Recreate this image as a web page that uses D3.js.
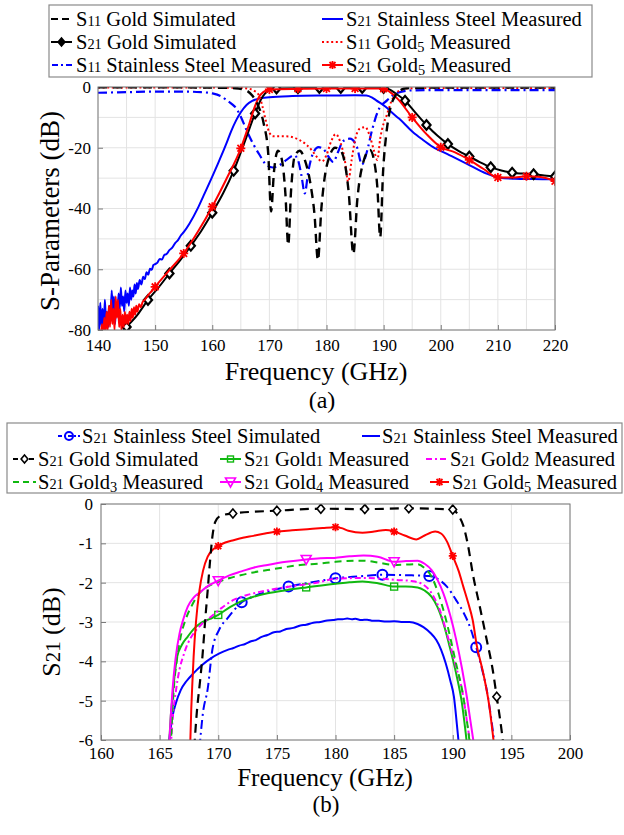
<!DOCTYPE html>
<html>
<head>
<meta charset="utf-8">
<script src="https://cdn.jsdelivr.net/npm/d3@7"></script>
<style>
  body { margin: 0; background: #fff; }
  svg { display: block; }
  text { font-family: Liberation Serif; fill: #000; }
</style>
</head>
<body>
<svg id="fig" width="624" height="835" font-family="Liberation Serif"></svg>
<script>
// ---------------- Panel (a): S-parameters, 140–220 GHz ----------------
const freqTicksA = [140, 150, 160, 170, 180, 190, 200, 210, 220];
const dbTicksA = [0, -20, -40, -60, -80];

// [frequency GHz, dB]
const s11GoldSimA = [
  [140,-0.1],[150,-0.1],[160,-0.2],[164,-0.4],[166,-1.2],[167,-2.8],[168,-6],[169,-12],
  [169.8,-22],[170.3,-41],[170.8,-28],[171.5,-21],[172.2,-24],[172.8,-35],[173.3,-52],
  [173.8,-34],[174.4,-23],[175.3,-21],[176.2,-24],[177.2,-32],[177.9,-42],[178.5,-57],
  [179.1,-40],[179.7,-29.5],[180.5,-23],[181.5,-20],[182.4,-20.7],[183.2,-25],[183.9,-35],
  [184.7,-55],[185.4,-37],[186.4,-25],[187.6,-20.7],[188.4,-25],[188.9,-33],[189.4,-49.5],
  [189.9,-28],[190.5,-15],[191.1,-7.6],[192,-3],[193,-1],[194,-0.4],[200,-0.2],[210,-0.2],[220,-0.2]
];
const s21GoldSimA = [
  [143.5,-82],[145,-79],[146.9,-75],[148.75,-70.1],[150.6,-66],[152.5,-61.4],[154.4,-57],
  [156.25,-52.3],[158.1,-47.3],[160,-41.4],[161.9,-35],[163.75,-27.6],[165.6,-18.5],
  [167.5,-8.7],[168.5,-4.2],[169.3,-2],[170.2,-0.9],[171.25,-0.5],[175,-0.4],[178.75,-0.3],
  [182.5,-0.3],[186.25,-0.3],[190,-0.3],[191,-0.8],[192,-2],[193.75,-4.5],[195.6,-8.5],
  [197.5,-12.5],[199.4,-16],[201.25,-18.8],[203.1,-21],[205,-22.9],[206.9,-24.8],
  [208.75,-26.4],[210.6,-27.5],[212.5,-28.2],[214.4,-28.5],[216.25,-28.7],[218.1,-29.1],[220,-29.5]
];
const s21GoldSimMarkA = [145,148.75,152.5,156.25,160,163.75,167.5,171.25,175,178.75,182.5,186.25,190,
  193.75,197.5,201.25,205,208.75,212.5,216.25,220];
const s11SteelMeasA = [
  [140,-1.9],[145,-1.7],[150,-1.5],[155,-1.5],[158,-1.7],[160,-2.1],[161.5,-3],[162.5,-4.3],
  [163.5,-5.7],[164.2,-7],[165,-9.8],[166,-14.2],[167.1,-18.5],[168.3,-22.4],[169.5,-25.7],
  [170.6,-26.5],[171.8,-25.7],[173,-24],[174.3,-22.5],[175,-24],[175.6,-29],[176.2,-35],
  [176.8,-28],[177.6,-22],[178.6,-19.8],[179.5,-20.5],[180.3,-22.8],[181.2,-24.7],[182,-21.5],
  [182.9,-17.8],[184.1,-17],[185.3,-19.6],[186.2,-25.5],[187,-21.8],[188,-14],[189,-8],
  [190.6,-4.4],[192,-2.3],[193,-1.6],[195.2,-1.1],[200,-1.0],[210,-1.0],[220,-1.0]
];
const s21SteelMeasA = [
  [140,-72],[140.2,-80],[140.4,-71],[140.6,-79],[140.8,-73],[141,-80],[141.2,-70],[141.4,-77],
  [141.6,-74],[141.8,-79],[142,-72],[142.2,-76],[142.4,-67],[142.6,-74],[142.8,-69],[143,-78],
  [143.2,-71],[143.4,-75],[143.6,-68],[143.8,-73],[144,-66],[144.2,-72],[144.4,-69],[144.6,-74],
  [144.8,-67],[145,-71],[145.2,-68],[145.4,-72],[145.6,-66],[145.8,-70],[146,-67],[146.2,-69],
  [146.4,-65],[146.6,-68],[146.8,-64.5],[147,-66.5],[147.3,-63.5],[147.6,-65],[147.9,-62.5],
  [148.2,-63.2],[148.5,-61],[148.8,-61.8],[149.1,-59.8],[149.4,-60.2],[149.7,-58.6],[150,-58.3],
  [150.4,-57.8],[150.8,-56.6],[151.2,-56.8],[151.6,-55.3],[152,-55.0],[152.5,-53.7],[153,-52.9],
  [153.5,-51.4],[154,-50.4],[154.5,-48.9],[155,-47.8],[156,-45],[157.5,-39.8],[158.5,-35.7],
  [160,-29.5],[161,-25.2],[162,-20.8],[162.5,-18.5],[163.3,-14.6],[164.2,-10.9],[165,-8.3],
  [166,-5.9],[167,-4.6],[168,-3.9],[170,-3.4],[174,-3.0],[180,-2.8],[185,-2.7],[187,-2.8],
  [188,-3.5],[188.7,-4.4],[190.4,-6.6],[191.5,-8.5],[192.7,-10.4],[195.1,-14.8],[196.8,-17.3],
  [198.6,-19.7],[201.5,-22.4],[204.5,-25.2],[208,-28.5],[210.3,-29.9],[213,-30.2],[216.1,-30.3],[220,-30.4]
];
const s11Gold5MeasA = [
  [140,-0.2],[150,-0.2],[160,-0.2],[165,-0.3],[166.5,-0.6],[167.3,-1.2],[167.9,-2],[168.3,-3.2],
  [168.8,-6.5],[169.3,-10.5],[169.8,-14],[170.6,-16.2],[172,-16.2],[173.5,-16.3],[175.3,-17.5],
  [176.5,-19],[177.5,-21],[178.3,-23],[179.2,-24.5],[180,-22.4],[180.8,-18],[181.6,-15.5],
  [182.4,-18],[183.2,-24],[183.8,-31.2],[184.4,-24],[185,-17.4],[185.9,-13.6],[186.8,-13.2],
  [187.6,-16.3],[188.4,-21.5],[188.9,-24],[189.4,-17],[190,-12],[190.5,-9.5],[191.3,-5],
  [192.1,-2.2],[193,-1],[194.4,-0.4],[200,-0.3],[210,-0.3],[220,-0.3]
];
const s21Gold5MeasA = [
  [140.4,-84],[140.7,-78],[140.9,-83],[141.1,-76],[141.3,-81],[141.5,-74],[141.7,-80],[141.9,-72],
  [142.1,-79],[142.3,-70],[142.5,-78],[142.7,-73],[142.9,-80],[143.1,-69],[143.3,-76],[143.5,-70],
  [143.7,-79],[143.9,-73],[144.1,-80],[144.3,-75],[144.5,-79],[144.7,-74],[144.9,-78],[145.1,-75],
  [145.3,-78],[145.5,-74],[145.7,-77],[145.9,-73],[146.1,-76],[146.3,-72.5],[146.5,-75],[146.7,-72],
  [146.9,-74],[147.2,-71.5],[147.5,-72.5],[147.8,-70.8],[148.2,-70],[148.6,-69],[149,-68],[149.5,-67],
  [150,-65.8],[152.5,-60.3],[155,-54.8],[157.5,-47.6],[160,-39.4],[162.5,-30.2],[165,-20.2],
  [166.5,-12],[167.5,-6.2],[168.2,-3.2],[169,-1.6],[170,-0.8],[175,-0.6],[180,-0.5],[185,-0.5],
  [189,-0.5],[190,-0.6],[191,-1.5],[192.5,-4],[195,-10],[197.5,-15.5],[200,-19.8],[202.5,-21.5],
  [205,-24],[207.5,-27],[210,-29.8],[212.5,-29.8],[215,-29.4],[217.5,-29.6],[220,-31]
];
const s21Gold5MarkA = [150,155,160,165,170,175,180,185,190,195,200,205,210,215,220];

// ---------------- Panel (b): S21 passband, 160–200 GHz ----------------
const freqTicksB = [160, 165, 170, 175, 180, 185, 190, 195, 200];
const dbTicksB = [0, -1, -2, -3, -4, -5, -6];

const s21SteelSimB = [
  [168.4,-6.2],[168.7,-5.3],[169.1,-4.7],[169.5,-3.7],[170.07,-3.2],[170.8,-2.9],[171.4,-2.68],
  [172,-2.5],[173,-2.35],[174.2,-2.23],[176,-2.1],[178.4,-1.97],[180,-1.89],[182,-1.84],[184,-1.8],
  [186,-1.81],[188,-1.83],[188.8,-1.92],[189.5,-2.1],[190.3,-2.45],[190.9,-2.75],[191.5,-3.15],
  [192,-3.64],[192.5,-4.2],[192.9,-4.73],[193.3,-5.5],[193.6,-6.2]
];
const s21SteelSimMarkB = [172,176,180,184,188,192];
const s21SteelMeasB = [
  [165.75,-6.2],[165.9,-5.8],[166.1,-5.4],[166.4,-5.05],[166.8,-4.73],[167.3,-4.5],[167.9,-4.3],
  [168.6,-4.1],[169.4,-3.92],[170.1,-3.8],[170.8,-3.71],[171.3,-3.66],[171.8,-3.6],[172.3,-3.56],
  [172.8,-3.49],[173.2,-3.46],[173.7,-3.38],[174.2,-3.33],[174.75,-3.26],[175.3,-3.24],[175.8,-3.18],
  [176.4,-3.15],[177,-3.09],[177.5,-3.07],[178.1,-3.02],[178.7,-3.0],[179.3,-2.96],[179.8,-2.95],
  [180.2,-2.93],[180.6,-2.93],[181,-2.91],[181.4,-2.93],[181.7,-2.92],[182.2,-2.95],[182.7,-2.94],
  [183.2,-2.97],[183.7,-2.97],[184.3,-2.99],[185,-2.98],[185.6,-3.0],[186.3,-3.0],[187,-3.05],
  [187.5,-3.13],[188.1,-3.28],[188.6,-3.46],[189,-3.7],[189.4,-4.05],[189.8,-4.5],[190.1,-4.9],
  [190.35,-5.6],[190.55,-6.2]
];
const s21GoldSimB = [
  [167.95,-6.2],[168.2,-5.2],[168.45,-4.5],[168.65,-3.88],[168.9,-2.9],[169.1,-2.19],[169.3,-1.45],
  [169.5,-0.83],[169.75,-0.45],[170.2,-0.3],[171.25,-0.24],[175,-0.17],[178.75,-0.12],[182.5,-0.13],
  [186.25,-0.11],[190,-0.14],[190.5,-0.3],[190.9,-0.55],[191.3,-1.05],[191.7,-1.76],[192.3,-2.6],
  [192.9,-3.46],[193.4,-4.2],[193.75,-4.9],[194.05,-5.5],[194.35,-6.2]
];
const s21GoldSimMarkB = [171.25,175,178.75,182.5,186.25,190,193.75];
const s21Gold1B = [
  [165.8,-6.2],[165.95,-5.4],[166.1,-4.9],[166.3,-4.3],[166.5,-3.88],[166.9,-3.58],[167.4,-3.37],
  [167.9,-3.18],[168.5,-3.03],[169.3,-2.92],[170,-2.82],[171,-2.62],[171.9,-2.48],[173,-2.36],
  [174.2,-2.27],[175.8,-2.19],[177.5,-2.12],[178.8,-2.07],[180,-2.03],[181.2,-1.99],[182.3,-1.97],
  [183.7,-2.02],[185,-2.1],[186,-2.1],[187,-2.12],[187.6,-2.2],[188.2,-2.36],[188.7,-2.62],
  [189.2,-3.03],[189.8,-3.7],[190.35,-4.39],[190.75,-5.0],[191.25,-6.2]
];
const s21Gold1MarkB = [170,177.5,185];
const s21Gold2B = [
  [165.95,-6.2],[166.1,-5.5],[166.4,-4.73],[166.7,-4.2],[167,-3.88],[167.4,-3.55],[167.9,-3.29],
  [168.6,-3.05],[169.4,-2.86],[170.3,-2.64],[171.3,-2.44],[172.4,-2.32],[173.6,-2.23],[175,-2.15],
  [176.5,-2.08],[178.4,-2.0],[180,-1.9],[182.4,-1.88],[184,-1.9],[185.2,-1.93],[186.5,-1.96],
  [187.3,-2.02],[188.2,-2.27],[188.9,-2.7],[189.5,-3.29],[190.2,-4.05],[190.9,-4.9],[191.2,-5.5],[191.55,-6.2]
];
const s21Gold3B = [
  [165.95,-6.2],[166.05,-5.5],[166.2,-4.73],[166.5,-3.9],[166.8,-3.37],[167.2,-2.95],[167.7,-2.61],
  [168.5,-2.23],[169.2,-2.08],[170,-1.98],[171,-1.88],[171.9,-1.81],[173,-1.74],[174.2,-1.68],
  [175.6,-1.61],[177,-1.55],[178.5,-1.52],[180,-1.47],[182.4,-1.44],[183.8,-1.5],[185,-1.55],
  [186,-1.54],[187,-1.53],[187.6,-1.63],[188.2,-1.85],[188.8,-2.3],[189.5,-3.03],[190.2,-3.95],
  [190.9,-4.9],[191.2,-5.5],[191.5,-6.2]
];
const s21Gold4B = [
  [165.8,-6.2],[165.95,-5.4],[166.1,-4.73],[166.35,-3.95],[166.7,-3.29],[167,-2.95],[167.4,-2.61],
  [167.9,-2.38],[168.5,-2.23],[169.2,-2.07],[170,-1.95],[171,-1.81],[171.9,-1.72],[173,-1.62],
  [174.2,-1.55],[175.8,-1.47],[177.5,-1.41],[178.7,-1.38],[179.9,-1.37],[181.2,-1.33],[182.4,-1.31],
  [183.6,-1.34],[185,-1.47],[186,-1.45],[187,-1.44],[187.6,-1.52],[188.2,-1.68],[188.7,-1.93],
  [189.2,-2.27],[189.8,-2.85],[190.3,-3.46],[190.8,-4.2],[191.2,-4.9],[191.5,-5.5],[191.85,-6.2]
];
const s21Gold4MarkB = [170,177.5,185];
const s21Gold5B = [
  [167.6,-6.2],[167.7,-5.2],[167.8,-4.5],[167.9,-3.88],[168.1,-3.0],[168.4,-2.19],[168.7,-1.7],
  [169.1,-1.34],[169.5,-1.17],[170,-1.07],[170.6,-0.98],[171.3,-0.92],[172.1,-0.86],[173,-0.81],
  [174,-0.75],[175,-0.7],[176.3,-0.67],[177.6,-0.64],[178.9,-0.61],[180,-0.59],[180.6,-0.62],
  [181.1,-0.68],[182.3,-0.73],[183.3,-0.7],[184.3,-0.66],[185,-0.7],[185.9,-0.8],[186.9,-0.9],
  [187.6,-0.8],[188.5,-0.7],[189,-0.75],[189.5,-0.95],[190,-1.32],[190.5,-1.7],[190.9,-2.1],
  [191.3,-2.5],[191.7,-2.95],[192.05,-3.6],[192.6,-4.3],[193.1,-5.1],[193.55,-6.2]
];
const s21Gold5MarkB = [170,175,180,185,190];

// ---------------- colours and line styles ----------------
const BLUE = "#0000ff", RED = "#ff0000", BLACK = "#000000", GREEN = "#10b810", MAGENTA = "#ff00ff";
const DASH = "9,6", DASHDOT = "9,4,2,4", DOT = "2,2.6", GDASH = "7,5", MDASHDOT = "6,3,2,3";
const SERIF = "Liberation Serif";

const svg = d3.select("#fig");

// Text with digits set small (old-style look); descending digits dropped a little.
function richText(parent, str, x, y, size, opts = {}) {
  const t = parent.append("text").attr("x", x).attr("y", y).attr("font-size", size)
    .attr("font-family", SERIF);
  if (opts.anchor) t.attr("text-anchor", opts.anchor);
  if (opts.transform) t.attr("transform", opts.transform);
  const small = size * (opts.digitScale || 0.7);
  let pending = 0;
  str.match(/\d|\D+/g).forEach(p => {
    const s = t.append("tspan").text(p);
    let dy = -pending; pending = 0;
    if (/\d/.test(p)) {
      s.attr("font-size", small);
      if (opts.oldstyle !== false && "345789".includes(p)) { dy += size * 0.16; pending = size * 0.16; }
    }
    if (dy) s.attr("dy", dy);
  });
  return t;
}
function plainText(str, x, y, size, rot) {
  const t = svg.append("text").attr("text-anchor", "middle").attr("font-size", size)
    .attr("font-family", SERIF).text(str);
  if (rot) t.attr("transform", `translate(${x},${y}) rotate(-90)`);
  else t.attr("x", x).attr("y", y);
  return t;
}

// Marker shapes
function drawMarker(g, type, x, y, color, s, fill, sw) {
  if (type === "diamond") {
    g.append("path").attr("d", `M${x},${y - s}L${x + s * 0.85},${y}L${x},${y + s}L${x - s * 0.85},${y}Z`)
      .attr("fill", fill || "#fff").attr("stroke", color).attr("stroke-width", sw || 1.6);
  } else if (type === "circle") {
    g.append("circle").attr("cx", x).attr("cy", y).attr("r", s)
      .attr("fill", "none").attr("stroke", color).attr("stroke-width", 2);
  } else if (type === "square") {
    g.append("rect").attr("x", x - s).attr("y", y - s).attr("width", 2 * s).attr("height", 2 * s)
      .attr("fill", "none").attr("stroke", color).attr("stroke-width", 1.4);
  } else if (type === "triDown") {
    g.append("path").attr("d", `M${x - s},${y - s * 0.8}L${x + s},${y - s * 0.8}L${x},${y + s}Z`)
      .attr("fill", "none").attr("stroke", color).attr("stroke-width", 1.6);
  } else if (type === "asterisk") {
    const d = s * 0.75;
    g.append("path").attr("d", `M${x - d},${y - d}L${x + d},${y + d}M${x - d},${y + d}L${x + d},${y - d}M${x},${y - s}L${x},${y + s}M${x - s},${y}L${x + s},${y}`)
      .attr("fill", "none").attr("stroke", color).attr("stroke-width", 1.8);
  }
}

function drawPanel(cfg) {
  const { x, y, xGrid, yGrid, xTicks, yTicks, series, clipId } = cfg;
  const [x0, x1] = x.range(), [y0, y1] = y.range(); // y0 bottom, y1 top
  const g = svg.append("g");

  // grid
  g.append("g").selectAll("line").data(xGrid).join("line")
    .attr("x1", d => x(d)).attr("x2", d => x(d)).attr("y1", y1).attr("y2", y0)
    .attr("stroke", "#e3e3e3").attr("stroke-width", 1);
  g.append("g").selectAll("line").data(yGrid).join("line")
    .attr("x1", x0).attr("x2", x1).attr("y1", d => y(d)).attr("y2", d => y(d))
    .attr("stroke", "#e3e3e3").attr("stroke-width", 1);

  // axes (ticks point inward, MATLAB style)
  const ax = g.append("g").attr("transform", `translate(0,${y0})`)
    .call(d3.axisBottom(x).tickValues(xTicks).tickFormat(d => String(d))
      .tickSizeInner(-5).tickSizeOuter(0).tickPadding(cfg.xPad));
  const ay = g.append("g").attr("transform", `translate(${x0},0)`)
    .call(d3.axisLeft(y).tickValues(yTicks).tickFormat(d => String(d))
      .tickSizeInner(-5).tickSizeOuter(0).tickPadding(cfg.yPad));
  [ax, ay].forEach(a => {
    a.attr("font-family", SERIF).attr("font-size", 17);
    a.select(".domain").remove();
    a.selectAll(".tick line").attr("stroke", "#7a7a7a");
    a.selectAll(".tick text").attr("fill", "#000").attr("font-family", SERIF);
  });

  // clip
  svg.append("clipPath").attr("id", clipId).append("rect")
    .attr("x", x0).attr("y", y1).attr("width", x1 - x0).attr("height", y0 - y1);
  const plot = g.append("g").attr("clip-path", `url(#${clipId})`);
  const line = d3.line().x(d => x(d[0])).y(d => y(d[1])).curve(d3.curveMonotoneX);

  series.forEach(s => {
    plot.append("path").datum(s.data).attr("d", line)
      .attr("fill", "none").attr("stroke", s.color).attr("stroke-width", s.width || 2)
      .attr("stroke-dasharray", s.dash || null).attr("stroke-linejoin", "round");
    if (s.marks) {
      const mg = plot.append("g");
      s.marks.forEach(f => {
        const p = s.data.find(d => d[0] === f);
        if (p) drawMarker(mg, s.marker, x(p[0]), y(p[1]), s.color, s.msize, s.mfill, s.msw);
      });
    }
  });

  // box
  g.append("rect").attr("x", x0).attr("y", y1).attr("width", x1 - x0).attr("height", y0 - y1)
    .attr("fill", "none").attr("stroke", "#7a7a7a").attr("stroke-width", 1);
}

// ---------- Panel (a) ----------
const xA = d3.scaleLinear().domain([140, 220]).range([98, 555]);
const yA = d3.scaleLinear().domain([-80, 0]).range([330, 87]);
drawPanel({
  x: xA, y: yA, clipId: "clipA", xPad: 9, yPad: 7,
  xGrid: d3.range(140, 221, 5), yGrid: d3.range(-80, 1, 10),
  xTicks: freqTicksA, yTicks: dbTicksA,
  series: [
    { data: s21SteelMeasA, color: BLUE, width: 2 },
    { data: s11SteelMeasA, color: BLUE, width: 2.2, dash: DASHDOT },
    { data: s21GoldSimA, color: BLACK, width: 2, marks: s21GoldSimMarkA, marker: "diamond", msize: 4.8, mfill: "#fff", msw: 2.2 },
    { data: s21Gold5MeasA, color: RED, width: 2, marks: s21Gold5MarkA, marker: "asterisk", msize: 4.5 },
    { data: s11Gold5MeasA, color: RED, width: 2, dash: DOT },
    { data: s11GoldSimA, color: BLACK, width: 2.4, dash: DASH }
  ]
});
plainText("Frequency (GHz)", 316, 380, 26);
plainText("(a)", 322, 408, 24);
plainText("S-Parameters (dB)", 59, 211, 27, true);

// ---------- Panel (b) ----------
const xB = d3.scaleLinear().domain([160, 200]).range([101, 570]);
const yB = d3.scaleLinear().domain([-6, 0]).range([740, 504]);
drawPanel({
  x: xB, y: yB, clipId: "clipB", xPad: 7, yPad: 8,
  xGrid: freqTicksB, yGrid: dbTicksB,
  xTicks: freqTicksB, yTicks: dbTicksB,
  series: [
    { data: s21SteelSimB, color: BLUE, width: 2, dash: DASHDOT, marks: s21SteelSimMarkB, marker: "circle", msize: 5 },
    { data: s21SteelMeasB, color: BLUE, width: 2 },
    { data: s21Gold1B, color: GREEN, width: 2, marks: s21Gold1MarkB, marker: "square", msize: 3.5 },
    { data: s21Gold2B, color: MAGENTA, width: 2, dash: MDASHDOT },
    { data: s21Gold3B, color: GREEN, width: 2, dash: GDASH },
    { data: s21Gold4B, color: MAGENTA, width: 2, marks: s21Gold4MarkB, marker: "triDown", msize: 5 },
    { data: s21Gold5B, color: RED, width: 2, marks: s21Gold5MarkB, marker: "asterisk", msize: 4 },
    { data: s21GoldSimB, color: BLACK, width: 2.2, dash: DASH, marks: s21GoldSimMarkB, marker: "diamond", msize: 4.5 }
  ]
});
plainText("Frequency (GHz)", 325, 786, 25);
plainText("(b)", 326, 812, 23);
richText(svg, "S21 (dB)", 0, 0, 26, { anchor: "middle", transform: "translate(60,632) rotate(-90)", oldstyle: false, digitScale: 0.8 });

// ---------- Legends ----------
function legendSample(g, x1, x2, yc, st) {
  g.append("line").attr("x1", x1).attr("x2", x2).attr("y1", yc).attr("y2", yc)
    .attr("stroke", st.color).attr("stroke-width", st.width || 2).attr("stroke-dasharray", st.dash || null);
  if (st.marker) drawMarker(g, st.marker, (x1 + x2) / 2, yc, st.color, st.msize || 4, st.mfill);
}

const legendA = [
  { label: "S11 Gold Simulated", sx: [51, 72], tx: 76, row: 0, st: { color: BLACK, dash: "7,4", width: 2 } },
  { label: "S21 Gold Simulated", sx: [51, 72], tx: 76, row: 1, st: { color: BLACK, marker: "diamond", msize: 4, mfill: "#000" } },
  { label: "S11 Stainless Steel Measured", sx: [52, 74], tx: 76, row: 2, st: { color: BLUE, dash: "6,3,2,3" } },
  { label: "S21 Stainless Steel Measured", sx: [322, 343], tx: 346, row: 0, st: { color: BLUE } },
  { label: "S11 Gold5 Measured", sx: [322, 343], tx: 346, row: 1, st: { color: RED, dash: DOT } },
  { label: "S21 Gold5 Measured", sx: [322, 343], tx: 346, row: 2, st: { color: RED, marker: "asterisk", msize: 4 } }
];
const legendB = [
  { label: "S21 Stainless Steel Simulated", sx: [58, 80], tx: 82, row: 0, st: { color: BLUE, dash: "4,2,2,2", marker: "circle", msize: 4 } },
  { label: "S21 Stainless Steel Measured", sx: [362, 380], tx: 382, row: 0, st: { color: BLUE } },
  { label: "S21 Gold Simulated", sx: [13, 36], tx: 38, row: 1, st: { color: BLACK, dash: "5,3", marker: "diamond", msize: 4 } },
  { label: "S21 Gold1 Measured", sx: [220, 241], tx: 244, row: 1, st: { color: GREEN, marker: "square", msize: 3 } },
  { label: "S21 Gold2 Measured", sx: [426, 448], tx: 450, row: 1, st: { color: MAGENTA, dash: MDASHDOT } },
  { label: "S21 Gold3 Measured", sx: [13, 36], tx: 38, row: 2, st: { color: GREEN, dash: "6,4" } },
  { label: "S21 Gold4 Measured", sx: [220, 241], tx: 244, row: 2, st: { color: MAGENTA, marker: "triDown", msize: 5 } },
  { label: "S21 Gold5 Measured", sx: [430, 449], tx: 452, row: 2, st: { color: RED, marker: "asterisk", msize: 4 } }
];

function drawLegend(items, box, rowBase, fs) {
  const g = svg.append("g");
  g.append("rect").attr("x", box[0]).attr("y", box[1]).attr("width", box[2]).attr("height", box[3])
    .attr("fill", "#fff").attr("stroke", "#8a8a8a").attr("stroke-width", 1.2);
  items.forEach(it => {
    const base = rowBase[it.row];
    legendSample(g, it.sx[0], it.sx[1], base - 7, it.st);
    richText(g, it.label, it.tx, base, fs);
  });
}
drawLegend(legendA, [49, 5, 543, 72], [26, 49, 72], 20.5);
drawLegend(legendB, [7, 423, 615, 70], [443, 466, 489], 20.5);
</script>
</body>
</html>
